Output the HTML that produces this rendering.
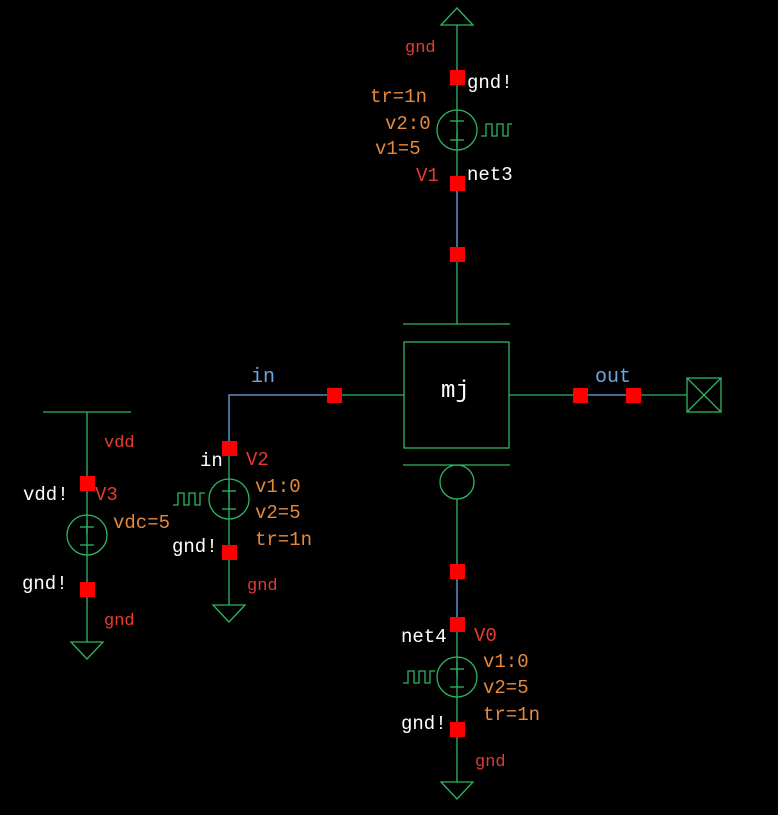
<!DOCTYPE html>
<html><head><style>
html,body{margin:0;padding:0;background:#000;}
svg{display:block;}
text{font-family:"Liberation Mono",monospace;font-size:19px;}
</style></head><body>
<svg width="778" height="815" viewBox="0 0 778 815" xmlns="http://www.w3.org/2000/svg">
<g fill="none" stroke="#2fb562" stroke-width="1.3">
<polygon points="441,25 473,25 457,8"/>
<line x1="457" y1="25" x2="457" y2="183"/>
<line x1="457" y1="254" x2="457" y2="324"/>
<circle cx="457" cy="130" r="20"/>
<line x1="450" y1="121" x2="464" y2="121"/>
<line x1="450" y1="140" x2="464" y2="140"/><line x1="457" y1="133" x2="457" y2="147"/>
<polyline points="481,136 486,136 486,124 492,124 492,136 497,136 497,124 503,124 503,136 508,136 508,124 512,124"/>
<line x1="403" y1="324" x2="510" y2="324"/>
<rect x="404" y="342" width="105" height="106"/>
<line x1="403" y1="465" x2="510" y2="465"/>
<circle cx="457" cy="482" r="17"/>
<line x1="457" y1="499" x2="457" y2="571"/>
<line x1="457" y1="624" x2="457" y2="782"/>
<circle cx="457" cy="677" r="20"/>
<line x1="450" y1="669" x2="464" y2="669"/><line x1="457" y1="662" x2="457" y2="676"/>
<line x1="450" y1="687" x2="464" y2="687"/>
<polyline points="403,683 408,683 408,671 414,671 414,683 419,683 419,671 425,671 425,683 430,683 430,671 435,671"/>
<polygon points="441,782 473,782 457,799"/>
<line x1="509" y1="395" x2="580" y2="395"/>
<line x1="633" y1="395" x2="687" y2="395"/>
<rect x="687" y="378" width="34" height="34"/>
<line x1="687" y1="378" x2="721" y2="412"/><line x1="721" y1="378" x2="687" y2="412"/>
<line x1="334" y1="395" x2="404" y2="395"/>
<line x1="229" y1="448" x2="229" y2="605"/>
<circle cx="229" cy="499" r="20"/>
<line x1="222" y1="491" x2="236" y2="491"/><line x1="229" y1="484" x2="229" y2="498"/>
<line x1="222" y1="509" x2="236" y2="509"/>
<polyline points="173,505 178,505 178,493 184,493 184,505 189,505 189,493 195,493 195,505 200,505 200,493 205,493"/>
<polygon points="213,605 245,605 229,622"/>
<line x1="43" y1="412" x2="131" y2="412"/>
<line x1="87" y1="412" x2="87" y2="642"/>
<circle cx="87" cy="535" r="20"/>
<line x1="80" y1="527" x2="94" y2="527"/><line x1="87" y1="520" x2="87" y2="534"/>
<line x1="80" y1="545" x2="94" y2="545"/>
<polygon points="71,642 103,642 87,659"/>
</g>
<g stroke="#6aa6e0" stroke-width="1.3" fill="none">
<line x1="457" y1="183" x2="457" y2="254"/>
<line x1="457" y1="571" x2="457" y2="624"/>
<line x1="580" y1="395" x2="633" y2="395"/>
<polyline points="334,395 229,395 229,448"/>
</g>
<g fill="#ff0000">
<rect x="450" y="70" width="15" height="15"/>
<rect x="450" y="176" width="15" height="15"/>
<rect x="450" y="247" width="15" height="15"/>
<rect x="450" y="564" width="15" height="15"/>
<rect x="450" y="617" width="15" height="15"/>
<rect x="450" y="722" width="15" height="15"/>
<rect x="573" y="388" width="15" height="15"/>
<rect x="626" y="388" width="15" height="15"/>
<rect x="327" y="388" width="15" height="15"/>
<rect x="222" y="441" width="15" height="15"/>
<rect x="222" y="545" width="15" height="15"/>
<rect x="80" y="476" width="15" height="15"/>
<rect x="80" y="582" width="15" height="15"/>
</g>
<g fill="#e83a30">
<text x="405" y="52" style="font-size:17px">gnd</text>
<text x="416" y="181">V1</text>
<text x="104" y="447" style="font-size:17px">vdd</text>
<text x="95" y="500">V3</text>
<text x="104" y="625" style="font-size:17px">gnd</text>
<text x="246" y="465">V2</text>
<text x="247" y="590" style="font-size:17px">gnd</text>
<text x="474" y="641">V0</text>
<text x="475" y="766" style="font-size:17px">gnd</text>
</g>
<g fill="#e8883a">
<text x="370" y="102">tr=1n</text>
<text x="385" y="129">v2:0</text>
<text x="375" y="154">v1=5</text>
<text x="113" y="528">vdc=5</text>
<text x="255" y="492">v1:0</text>
<text x="255" y="518">v2=5</text>
<text x="255" y="545">tr=1n</text>
<text x="483" y="667">v1:0</text>
<text x="483" y="693">v2=5</text>
<text x="483" y="720">tr=1n</text>
</g>
<g fill="#ffffff">
<text x="467" y="88">gnd!</text>
<text x="467" y="180">net3</text>
<text x="441" y="397" style="font-size:24px">mj</text>
<text x="23" y="500">vdd!</text>
<text x="22" y="589">gnd!</text>
<text x="200" y="466">in</text>
<text x="172" y="552">gnd!</text>
<text x="401" y="642">net4</text>
<text x="401" y="729">gnd!</text>
</g>
<g fill="#6aa6e0">
<text x="251" y="382" style="font-size:20px">in</text>
<text x="595" y="382" style="font-size:20px">out</text>
</g>
</svg>
</body></html>
